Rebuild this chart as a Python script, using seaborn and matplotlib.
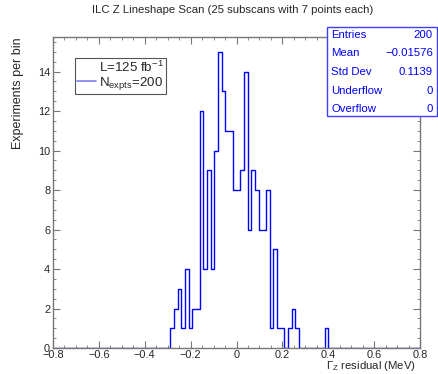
import numpy as np
import pandas as pd
import seaborn as sns
import matplotlib.pyplot as plt
from matplotlib.lines import Line2D
from matplotlib.patches import Rectangle
from matplotlib.ticker import MultipleLocator, FuncFormatter

# histogram contents (100 bins from -0.8 to 0.8, width 0.016)
bin_left = [-0.288, -0.272, -0.256, -0.240, -0.224, -0.208, -0.192, -0.176,
            -0.160, -0.144, -0.128, -0.112, -0.096, -0.080, -0.064, -0.048,
            -0.032, -0.016, 0.000, 0.016, 0.032, 0.048, 0.064, 0.080,
            0.096, 0.112, 0.128, 0.144, 0.160, 0.176, 0.192, 0.224,
            0.240, 0.256, 0.384]
counts = [1, 2, 3, 1, 4, 1, 2, 2,
          12, 4, 9, 4, 10, 15, 13, 11,
          11, 8, 8, 9, 14, 6, 9, 8,
          6, 6, 8, 1, 5, 1, 1, 1,
          2, 1, 1]
n_bins = 100
x_range = (-0.8, 0.8)

stat_names = ["Entries", "Mean", "Std Dev", "Underflow", "Overflow"]
stat_values = ["200", "\u22120.01576", "0.1139", "0", "0"]

title = "ILC Z Lineshape Scan (25 subscans with 7 points each)"

sns.set_style("ticks")
plt.rcParams["font.family"] = ["Liberation Sans", "DejaVu Sans"]
plt.rcParams["mathtext.fontset"] = "custom"
plt.rcParams["mathtext.rm"] = "Liberation Sans"
plt.rcParams["mathtext.it"] = "Liberation Sans:italic"

W, H = 438, 374
fig = plt.figure(figsize=(W / 100, H / 100), dpi=100)
ax = fig.add_axes([53 / W, 1 - 348 / H, (420 - 53) / W, (348 - 37) / H])

width = (x_range[1] - x_range[0]) / n_bins
df = pd.DataFrame({"residual": np.array(bin_left) + width / 2,
                   "n": np.array(counts, dtype=float)})
sns.histplot(data=df, x="residual", weights="n", binwidth=width,
             binrange=x_range, element="step", fill=False,
             color="#0000ff", linewidth=1.0, ax=ax)

ax.set_xlim(*x_range)
ax.set_ylim(0, 15.75)
ax.xaxis.set_major_locator(MultipleLocator(0.2))
ax.xaxis.set_minor_locator(MultipleLocator(0.05))
ax.yaxis.set_major_locator(MultipleLocator(2))
ax.yaxis.set_minor_locator(MultipleLocator(0.5))
ax.xaxis.set_major_formatter(FuncFormatter(
    lambda v, p: "0" if abs(v) < 1e-9 else f"{v:.1f}".replace("-", "\u2212")))
ax.yaxis.set_major_formatter(FuncFormatter(lambda v, p: f"{v:.0f}"))

frame = "#777777"
for s in ax.spines.values():
    s.set_color(frame)
    s.set_linewidth(1.0)
ax.tick_params(which="both", direction="in", top=True, right=True,
               color=frame, labelsize=7.9, pad=2)
ax.tick_params(axis="x", pad=1.5)
ax.tick_params(which="major", length=5)
ax.tick_params(which="minor", length=2.5)

ax.set_xlabel(r"$\Gamma_{\rm Z}$ residual (MeV)", fontsize=8.2,
              ha="right", va="top")
ax.xaxis.set_label_coords((416 - 53) / (420 - 53), -11 / 311)
ax.set_ylabel("Experiments per bin", loc="top", fontsize=9, labelpad=10)

fig.text(233 / W, 1 - 10 / H, title, ha="center", va="center", fontsize=8.2)

# legend
handles = [Line2D([], [], color="none"),
           Line2D([], [], color="#7f7fff", linewidth=1.2)]
labels = [r"L=125 fb$^{-1}$", r"N$_{\rm expts}$=200"]
leg = ax.legend(handles, labels, loc="upper left",
                bbox_to_anchor=(75 / W, 1 - 57.7 / H),
                bbox_transform=fig.transFigure, fontsize=9.6,
                frameon=True, fancybox=False, edgecolor="#555555",
                framealpha=1, borderpad=0.12, handlelength=1.45,
                handletextpad=0.25, labelspacing=0.05, borderaxespad=0)
leg.get_frame().set_linewidth(0.8)

# statistics box
box = Rectangle((327 / W, 1 - 116 / H), 110 / W, 89 / H,
                transform=fig.transFigure, facecolor="white",
                edgecolor="#4040ff", linewidth=1.0, zorder=5)
fig.patches.append(box)
row_y = [35, 53.5, 72, 90.5, 109]
for name, val, y in zip(stat_names, stat_values, row_y):
    fig.text(331 / W, 1 - y / H, name, ha="left", va="center",
             color="#0000ff", fontsize=8.2, zorder=6)
    fig.text(433 / W, 1 - y / H, val, ha="right", va="center",
             color="#0000ff", fontsize=8.2, zorder=6)

fig.savefig("out.png", dpi=100)
